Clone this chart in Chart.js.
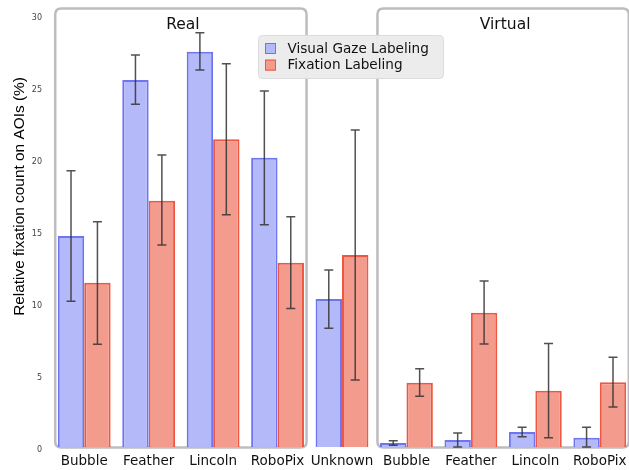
<!DOCTYPE html>
<html>
<head>
<meta charset="utf-8">
<script src="https://cdn.jsdelivr.net/npm/chart.js@4.4.0/dist/chart.umd.min.js"></script>
<style>
  html, body { margin: 0; padding: 0; background: #fff; overflow: hidden; }
</style>
</head>
<body>
<canvas id="fix-chart" width="633" height="470"></canvas>
<script>
const categories = ['Bubble', 'Feather', 'Lincoln', 'RoboPix', 'Unknown', 'Bubble', 'Feather', 'Lincoln', 'RoboPix'];

const visualGaze     = [14.65, 25.49, 27.45, 20.09, 10.28, 0.28, 0.49, 1.04, 0.65];
const visualGazeLow  = [10.12, 23.80, 26.18, 15.44,  8.24, 0.12, 0.00, 0.72, 0.00];
const visualGazeHigh = [19.19, 27.22, 28.77, 24.72, 12.29, 0.44, 0.97, 1.37, 1.37];

const fixation     = [11.41, 17.10, 21.37, 12.80, 13.33, 4.47,  9.33, 3.91, 4.49];
const fixationLow  = [ 7.13, 14.03, 16.13,  9.61,  4.65, 3.52,  7.15, 0.65, 2.78];
const fixationHigh = [15.65, 20.28, 26.62, 15.99, 22.01, 5.44, 11.53, 7.18, 6.23];

const yTicks = [0, 5, 10, 15, 20, 25, 30];
const yTitle = 'Relative fixation count on AOIs (%)';

// groups of categories framed by a box: name, first index, last index
const groupNames = ['Real', 'Virtual'];
const groupFirst = [0, 5];
const groupLast  = [3, 8];

const errorBars = [
  { low: visualGazeLow, high: visualGazeHigh },
  { low: fixationLow, high: fixationHigh }
];

function roundRect(ctx, x, y, w, h, r) {
  ctx.beginPath();
  ctx.moveTo(x + r, y);
  ctx.lineTo(x + w - r, y);
  ctx.quadraticCurveTo(x + w, y, x + w, y + r);
  ctx.lineTo(x + w, y + h - r);
  ctx.quadraticCurveTo(x + w, y + h, x + w - r, y + h);
  ctx.lineTo(x + r, y + h);
  ctx.quadraticCurveTo(x, y + h, x, y + h - r);
  ctx.lineTo(x, y + r);
  ctx.quadraticCurveTo(x, y, x + r, y);
  ctx.closePath();
}

const groupBoxes = {
  id: 'groupBoxes',
  beforeDatasetsDraw(chart) {
    const ctx = chart.ctx, x = chart.scales.x, y = chart.scales.y;
    const step = x.getPixelForValue(1) - x.getPixelForValue(0);
    ctx.save();
    for (let g = 0; g < groupNames.length; g++) {
      const left = x.getPixelForValue(groupFirst[g]) - 0.45 * step;
      const right = x.getPixelForValue(groupLast[g]) + 0.45 * step;
      const top = y.getPixelForValue(30.45);
      const bottom = y.getPixelForValue(0) + 0.5;
      ctx.lineWidth = 2.5;
      ctx.strokeStyle = '#bdbdc0';
      roundRect(ctx, left, top, right - left, bottom - top, 6);
      ctx.stroke();
      ctx.fillStyle = '#111';
      ctx.font = '15.5px "DejaVu Sans"';
      ctx.textAlign = 'center';
      ctx.textBaseline = 'alphabetic';
      ctx.fillText(groupNames[g], (left + right) / 2 + 2, top + 20);
    }
    ctx.restore();
  }
};

const extras = {
  id: 'extras',
  afterDatasetsDraw(chart) {
    const ctx = chart.ctx, y = chart.scales.y;
    ctx.save();
    // error bars
    ctx.strokeStyle = 'rgba(50,50,50,0.85)';
    ctx.lineWidth = 1.5;
    errorBars.forEach((eb, i) => {
      const meta = chart.getDatasetMeta(i);
      meta.data.forEach((bar, j) => {
        const yl = y.getPixelForValue(eb.low[j]);
        const yh = y.getPixelForValue(eb.high[j]);
        ctx.beginPath();
        ctx.moveTo(bar.x, yl); ctx.lineTo(bar.x, yh);
        ctx.moveTo(bar.x - 4.5, yl); ctx.lineTo(bar.x + 4.5, yl);
        ctx.moveTo(bar.x - 4.5, yh); ctx.lineTo(bar.x + 4.5, yh);
        ctx.stroke();
      });
    });

    // legend
    ctx.fillStyle = 'rgba(235,235,235,0.95)';
    ctx.strokeStyle = '#dcdcdc';
    ctx.lineWidth = 1;
    roundRect(ctx, 258.5, 35.5, 185, 43, 4);
    ctx.fill();
    ctx.stroke();
    ctx.font = '13.6px "DejaVu Sans"';
    ctx.textAlign = 'left';
    ctx.textBaseline = 'alphabetic';
    chart.data.datasets.forEach((ds, i) => {
      const top = 43 + i * 16.6;
      ctx.fillStyle = ds.backgroundColor;
      ctx.fillRect(265, top, 11, 11);
      ctx.strokeStyle = ds.borderColor;
      ctx.strokeRect(265.5, top + 0.5, 10, 10);
      ctx.fillStyle = '#111';
      ctx.fillText(ds.label, 287.5, 52.7 + i * 16.6);
    });

    // y axis title
    ctx.translate(24, 196.5);
    ctx.rotate(-Math.PI / 2);
    ctx.fillStyle = '#000';
    ctx.font = '15.4px "Liberation Sans"';
    ctx.textAlign = 'center';
    ctx.fillText(yTitle, 0, 0);
    ctx.restore();
  }
};

const ctx = document.getElementById('fix-chart').getContext('2d');
const fixChart = new Chart(ctx, {
  type: 'bar',
  plugins: [groupBoxes, extras],
  data: {
    labels: categories,
    datasets: [{
      label: 'Visual Gaze Labeling',
      data: visualGaze,
      backgroundColor: '#b4b9fa',
      borderColor: '#6f75f0',
      borderWidth: 2
    }, {
      label: 'Fixation Labeling',
      data: fixation,
      backgroundColor: '#f39c8e',
      borderColor: '#ee5843',
      borderWidth: 2
    }]
  },
  options: {
    responsive: false,
    animation: false,
    layout: { padding: { top: 15, right: 1, left: 0, bottom: 0 } },
    datasets: {
      bar: { categoryPercentage: 0.82, barPercentage: 1.0 }
    },
    scales: {
      x: {
        grid: { display: false, drawTicks: false },
        border: { display: false },
        ticks: {
          color: '#111',
          padding: 6,
          maxRotation: 0,
          autoSkip: false,
          font: { family: 'DejaVu Sans', size: 13.5 }
        },
        afterFit(scale) { scale.height = 23; }
      },
      y: {
        min: 0,
        max: 30,
        grid: { display: false, drawTicks: false },
        border: { display: false },
        afterBuildTicks(scale) { scale.ticks = yTicks.map(v => ({ value: v })); },
        ticks: {
          color: '#444',
          padding: 10,
          labelOffset: 3,
          font: { family: 'DejaVu Sans', size: 8 }
        },
        afterFit(scale) { scale.width = 52; }
      }
    },
    plugins: {
      legend: { display: false },
      tooltip: { enabled: false }
    }
  }
});
</script>
</body>
</html>
